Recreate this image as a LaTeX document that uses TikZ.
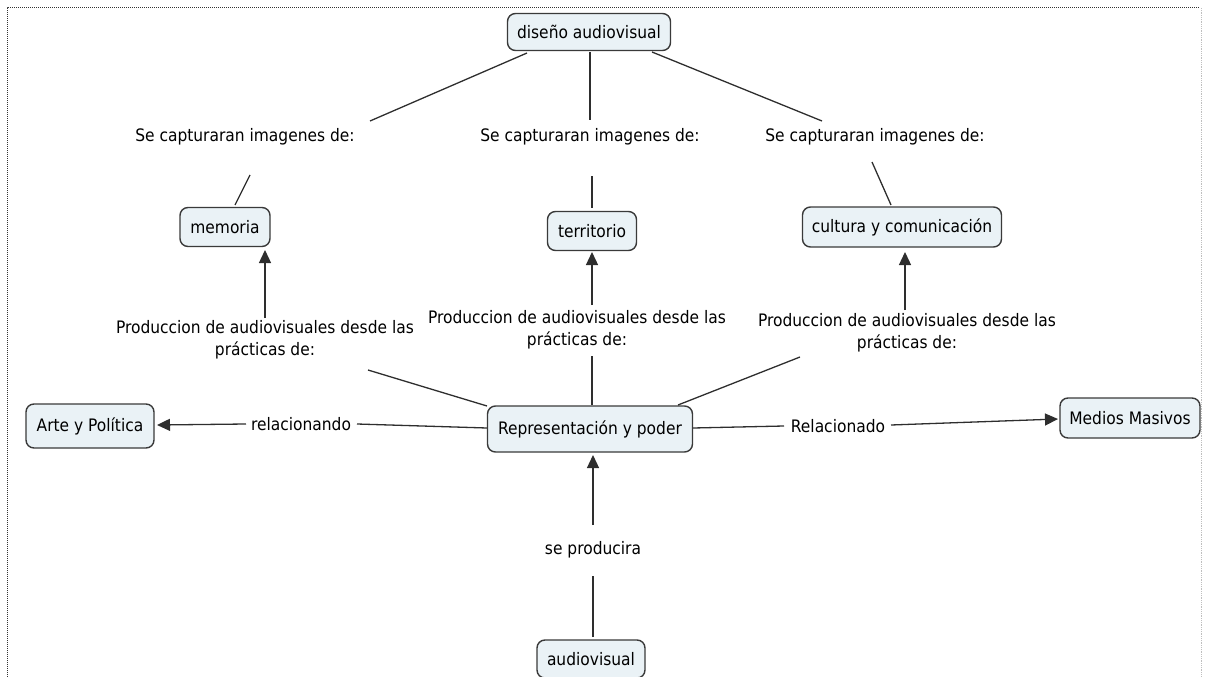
\documentclass[tikz,border=0pt]{standalone}
\usepackage{fontspec}
\setmainfont{DejaVu Sans Condensed}
\usetikzlibrary{calc,arrows.meta}
\definecolor{boxfill}{HTML}{EAF2F6}
\definecolor{boxline}{HTML}{3A3A3A}
\definecolor{linkc}{HTML}{2E2E2E}
\begin{document}
\begin{tikzpicture}[x=1pt,y=-1pt,
  concept/.style={draw=boxline,fill=boxfill,line width=1.4pt,rounded corners=8pt,
    inner sep=0pt,font=\fontsize{17.2}{20}\selectfont,text=black},
  linkl/.style={inner sep=0pt,align=center,font=\fontsize{17.2}{22}\selectfont,text=black},
  conn/.style={draw=linkc,line width=1.3pt},
  arr/.style={conn,-{Triangle[length=13pt,width=12pt]}}]
\useasboundingbox (0,0) rectangle (1205,677);
% dotted frame
\draw[black!80,densely dotted,line width=1pt] (7,677) -- (7,8) -- (1200,8);
\draw[black!25,densely dotted,line width=0.8pt] (1201,8) -- (1201,677);
% concepts
\node[concept,minimum width=163pt,minimum height=37pt] (dis) at (589,32) {diseño audiovisual};
\node[concept,minimum width=90pt,minimum height=39pt] (mem) at (225,227) {memoria};
\node[concept,minimum width=89pt,minimum height=39pt] (ter) at (592,231) {territorio};
\node[concept,minimum width=199pt,minimum height=40pt] (cul) at (902,227) {cultura y comunicación};
\node[concept,minimum width=128pt,minimum height=44pt] (arte) at (90,426) {Arte y Política};
\node[concept,minimum width=205pt,minimum height=46pt] (rep) at (590,429) {Representación y poder};
\node[concept,minimum width=140pt,minimum height=40pt] (med) at (1130,418) {Medios Masivos};
\node[concept,minimum width=108pt,minimum height=38pt] (aud) at (591,659) {audiovisual};
% link labels
\node[linkl] (l1) at (245,137) {Se capturaran imagenes de:};
\node[linkl] (l2) at (590,137) {Se capturaran imagenes de:};
\node[linkl] (l3) at (875,137) {Se capturaran imagenes de:};
\node[linkl] (p1) at (265,340) {Produccion de audiovisuales desde las\\prácticas de:};
\node[linkl] (p2) at (577,330) {Produccion de audiovisuales desde las\\prácticas de:};
\node[linkl] (p3) at (907,333) {Produccion de audiovisuales desde las\\prácticas de:};
\node[linkl] (rel1) at (301,424) {relacionando};
\node[linkl] (rel2) at (838,426) {Relacionado};
\node[linkl] (sp) at (593,550) {se producira};
% connectors
\draw[conn] ($(dis.center)+(-62,21)$) -- ($(l1.center)+(125,-16)$);
\draw[conn] ($(l1.center)+(5,38)$) -- ($(mem.center)+(10,-22)$);
\draw[conn] ($(dis.center)+(1,20)$) -- ($(l2.center)+(0,-17)$);
\draw[conn] ($(l2.center)+(2,39)$) -- ($(ter.center)+(0,-23)$);
\draw[conn] ($(dis.center)+(63,20)$) -- ($(l3.center)+(-53,-16)$);
\draw[conn] ($(l3.center)+(-3,25)$) -- ($(cul.center)+(-11,-22)$);
\draw[conn] ($(rep.center)+(-103,-23)$) -- ($(p1.center)+(103,30)$);
\draw[arr] ($(p1.center)+(0,-22)$) -- ($(mem.center)+(40,23)$);
\draw[conn] ($(rep.center)+(2,-24)$) -- ($(p2.center)+(15,26)$);
\draw[arr] ($(p2.center)+(15,-25)$) -- ($(ter.center)+(0,21)$);
\draw[conn] ($(rep.center)+(88,-24)$) -- ($(p3.center)+(-107,24)$);
\draw[arr] ($(p3.center)+(-2,-23)$) -- ($(cul.center)+(3,25)$);
\draw[conn] ($(rep.center)+(-103,-1)$) -- ($(rel1.center)+(56,0)$);
\draw[arr] ($(rel1.center)+(-55,0)$) -- ($(arte.center)+(67,-1)$);
\draw[conn] ($(rep.center)+(103,-1)$) -- ($(rel2.center)+(-54,0)$);
\draw[arr] ($(rel2.center)+(53,-1)$) -- ($(med.center)+(-72,1)$);
\draw[conn] ($(aud.center)+(2,-22)$) -- ($(sp.center)+(0,26)$);
\draw[arr] ($(sp.center)+(0,-25)$) -- ($(rep.center)+(3,26)$);
\end{tikzpicture}
\end{document}
